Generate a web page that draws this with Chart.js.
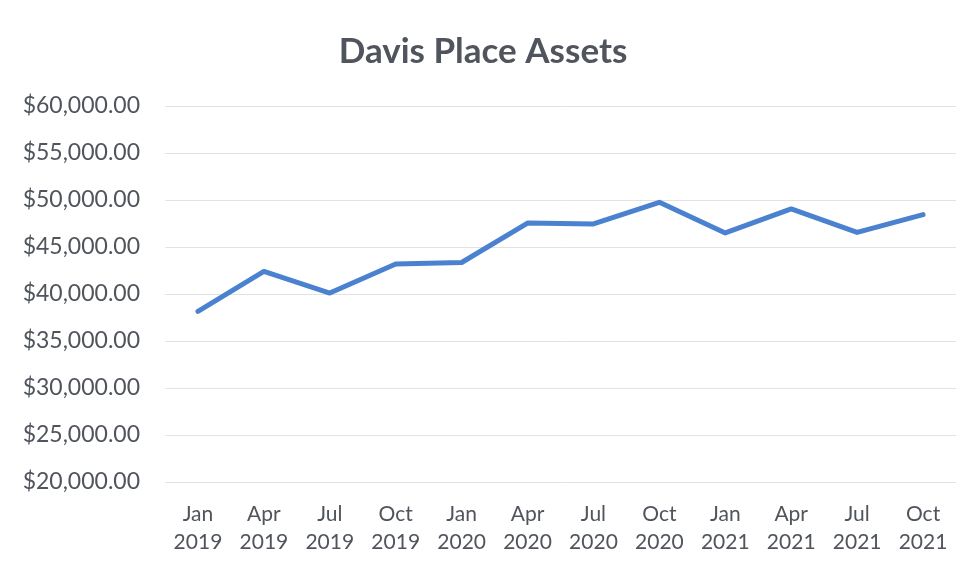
<!DOCTYPE html>
<html>
<head>
<meta charset="utf-8">
<title>Davis Place Assets</title>
<script src="https://cdn.jsdelivr.net/npm/chart.js@4.4.0/dist/chart.umd.min.js"></script>
<style>
  html, body { margin: 0; padding: 0; background: #fff; }
  #wrap { width: 970px; height: 567px; position: relative; }
</style>
</head>
<body>
<div id="wrap"><canvas id="assetsChart"></canvas></div>
<script>
// Chart data
const months = ['Jan', 'Apr', 'Jul', 'Oct', 'Jan', 'Apr', 'Jul', 'Oct', 'Jan', 'Apr', 'Jul', 'Oct'];
const years = ['2019', '2019', '2019', '2019', '2020', '2020', '2020', '2020', '2021', '2021', '2021', '2021'];
const assets = [38150, 42400, 40100, 43200, 43350, 47550, 47450, 49750, 46500, 49050, 46550, 48450];
const yMin = 20000;
const yMax = 60000;
const yStep = 5000;

const textColor = '#50545c';
const fontFamily = 'Lato, "Open Sans", sans-serif';

const labels = months.map((m, i) => [m, years[i]]);

const ctx = document.getElementById('assetsChart');
new Chart(ctx, {
    type: 'line',
    data: {
        labels: labels,
        datasets: [{
            label: 'Assets',
            data: assets,
            borderColor: '#4a82cf',
            borderWidth: 5,
            borderJoinStyle: 'round',
            borderCapStyle: 'round',
            pointRadius: 0,
            tension: 0,
            fill: false
        }]
    },
    options: {
        responsive: true,
        maintainAspectRatio: false,
        animation: false,
        layout: { padding: { top: 20, right: 14, bottom: 10, left: 10 } },
        plugins: {
            legend: { display: false },
            tooltip: { enabled: false },
            title: {
                display: true,
                text: 'Davis Place Assets',
                color: textColor,
                font: { family: fontFamily, size: 35, weight: 'bold', lineHeight: 1.2 },
                padding: { top: 11, bottom: 33 }
            }
        },
        scales: {
            x: {
                offset: true,
                grid: { display: false, drawTicks: false },
                border: { display: false },
                ticks: {
                    color: textColor,
                    font: { family: fontFamily, size: 21, lineHeight: 1.35 },
                    padding: 18,
                    maxRotation: 0,
                    autoSkip: false
                },
                afterFit: (scale) => { scale.height = 75; }
            },
            y: {
                min: yMin,
                max: yMax,
                grid: { color: '#e2e2e2', lineWidth: 1, drawTicks: false },
                border: { display: false },
                ticks: {
                    stepSize: yStep,
                    color: textColor,
                    font: { family: fontFamily, size: 23 },
                    padding: 25,
                    callback: (v) => '$' + v.toLocaleString('en-US', { minimumFractionDigits: 2, maximumFractionDigits: 2 })
                },
                afterFit: (scale) => { scale.width = 155; }
            }
        }
    }
});
</script>
</body>
</html>
